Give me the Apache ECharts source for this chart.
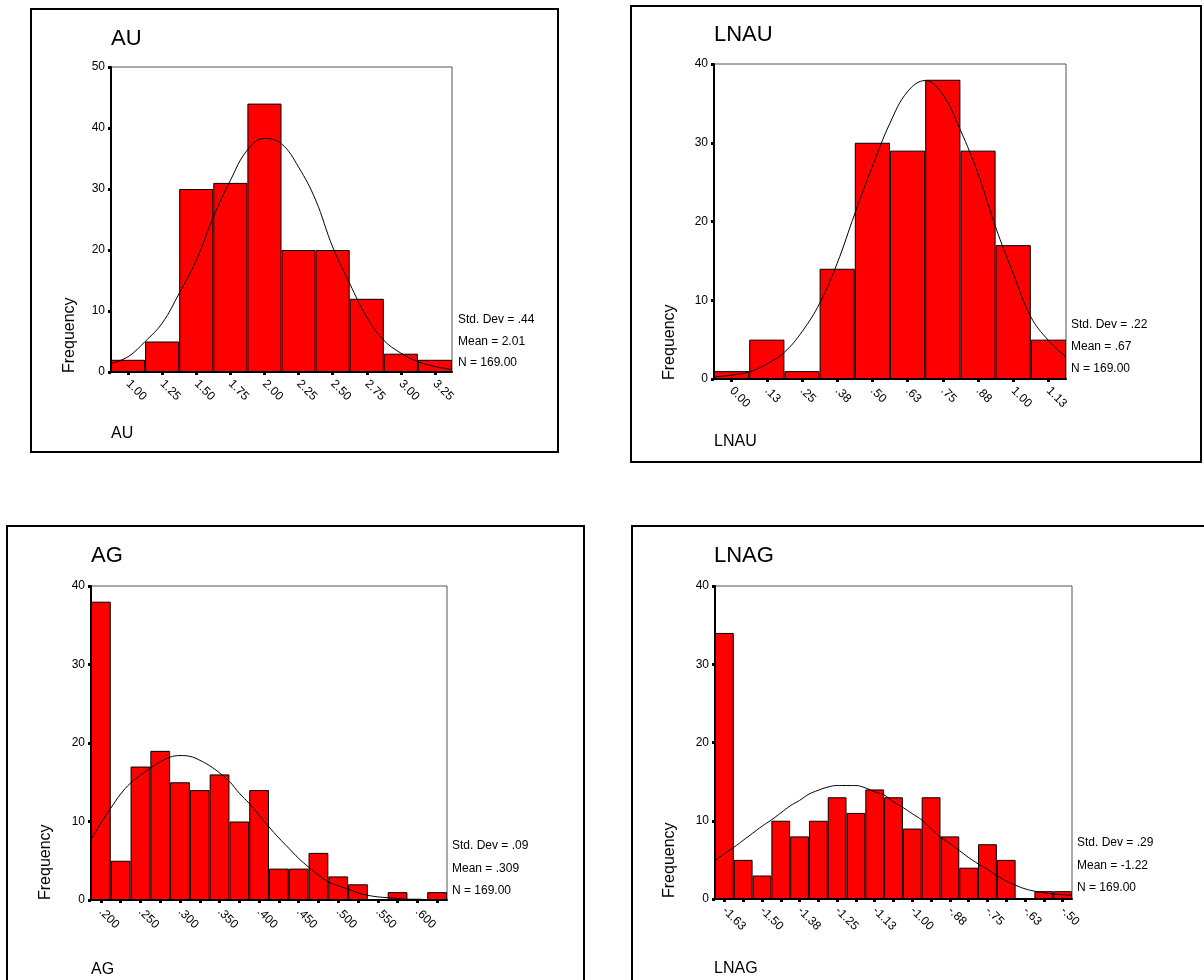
<!DOCTYPE html>
<html>
<head>
<meta charset="utf-8">
<script src="https://cdn.jsdelivr.net/npm/echarts@6/dist/echarts.min.js"></script>
<style>
html,body{margin:0;padding:0;background:#fff;}
#c{width:1204px;height:980px;}
</style>
</head>
<body>
<div id="c"></div>
<script>
// ---------- DATA ----------
// AU
const auCats = ['1.00','1.25','1.50','1.75','2.00','2.25','2.50','2.75','3.00','3.25'];
const auFreq = [2,5,30,31,44,20,20,12,3,2];
const auCurveX = [0.875,1.0,1.125,1.25,1.375,1.5,1.625,1.75,1.875,2.0,2.125,2.25,2.375,2.5,2.625,2.75,2.875,3.0,3.125,3.25,3.375];
const auCurveY = [1.4,2.5,5.0,8.0,12.9,18.3,25.4,31.4,36.4,38.3,37.4,33.6,28.2,20.5,14.5,9.0,5.2,3.1,1.7,0.9,0.4];
const auStats = ['Std. Dev = .44','Mean = 2.01','N = 169.00'];

// LNAU
const lnauCats = ['0.00','.13','.25','.38','.50','.63','.75','.88','1.00','1.13'];
const lnauFreq = [1,5,1,14,30,29,38,29,17,5];
const lnauCurveX = [-0.0625,0.0,0.0625,0.125,0.1875,0.25,0.3125,0.375,0.4375,0.5,0.5625,0.625,0.6875,0.75,0.8125,0.875,0.9375,1.0,1.0625,1.125,1.1875];
const lnauCurveY = [0.25,0.5,0.9,1.9,3.4,6.0,9.6,14.7,21.0,27.0,32.5,36.5,37.9,36.1,31.6,26.1,19.3,13.4,7.9,4.9,2.8];
const lnauStats = ['Std. Dev = .22','Mean = .67','N = 169.00'];

// AG
const agCats = ['.200','.225','.250','.275','.300','.325','.350','.375','.400','.425','.450','.475','.500','.525','.550','.575','.600','.625'];
const agFreq = [38,5,17,19,15,14,16,10,14,4,4,6,3,2,0,1,0,1];
const agCurveX = [0.1875,0.2,0.2125,0.225,0.2375,0.25,0.2625,0.275,0.2875,0.3,0.3125,0.325,0.3375,0.35,0.3625,0.375,0.3875,0.4,0.4125,0.425,0.4375,0.45,0.4625,0.475,0.4875,0.5,0.5125,0.525,0.5375,0.55,0.5625,0.575,0.5875,0.6,0.6125,0.625,0.6375];
const agCurveY = [7.7,9.8,11.7,13.5,14.9,15.9,16.8,17.6,18.2,18.4,18.3,17.8,17.1,16.2,15.1,13.6,12.3,10.8,9.3,7.9,6.6,5.3,4.2,3.2,2.3,1.8,1.4,0.9,0.6,0.4,0.3,0.2,0.1,0.1,0.05,0.03,0.02];
const agStats = ['Std. Dev = .09','Mean = .309','N = 169.00'];

// LNAG
const lnagCats = ['-1.63','-1.56','-1.50','-1.44','-1.38','-1.31','-1.25','-1.19','-1.13','-1.06','-1.00','-.94','-.88','-.81','-.75','-.69','-.63','-.56','-.50'];
const lnagFreq = [34,5,3,10,8,10,13,11,14,13,9,13,8,4,7,5,0,1,1];
const lnagCurveX = [-1.65625,-1.625,-1.59375,-1.5625,-1.53125,-1.5,-1.46875,-1.4375,-1.40625,-1.375,-1.34375,-1.3125,-1.28125,-1.25,-1.21875,-1.1875,-1.15625,-1.125,-1.09375,-1.0625,-1.03125,-1.0,-0.96875,-0.9375,-0.90625,-0.875,-0.84375,-0.8125,-0.78125,-0.75,-0.71875,-0.6875,-0.65625,-0.625,-0.59375,-0.5625,-0.53125,-0.5,-0.46875];
const lnagCurveY = [4.9,5.8,6.6,7.5,8.4,9.3,10.1,11.0,11.9,12.6,13.4,13.9,14.3,14.5,14.5,14.5,14.2,13.7,13.3,12.4,11.7,10.9,10.1,9.0,7.9,7.1,6.2,5.3,4.5,3.8,3.0,2.3,1.75,1.3,1.0,0.8,0.65,0.55,0.5];
const lnagStats = ['Std. Dev = .29','Mean = -1.22','N = 169.00'];

// ---------- LAYOUT ----------
const FONT = '"Liberation Sans", Arial, Helvetica, sans-serif';
const panels = [
  {name:'AU', cats:auCats, freq:auFreq, cx:auCurveX, cy:auCurveY, stats:auStats, ymax:50, labelInterval:0,
   grid:{left:111, top:67, width:341, height:305},
   border:{x:31, y:9, w:527, h:443},
   title:{x:111, y:39}, axisName:{x:111, y:434}, freqLbl:{x:70, y:373}, statsPos:{x:458, y:320, dy:21.5}},
  {name:'LNAU', cats:lnauCats, freq:lnauFreq, cx:lnauCurveX, cy:lnauCurveY, stats:lnauStats, ymax:40, labelInterval:0,
   grid:{left:714, top:64, width:352, height:315},
   border:{x:631, y:6, w:570, h:456},
   title:{x:714, y:35}, axisName:{x:714, y:442}, freqLbl:{x:670, y:380}, statsPos:{x:1071, y:325, dy:22}},
  {name:'AG', cats:agCats, freq:agFreq, cx:agCurveX, cy:agCurveY, stats:agStats, ymax:40, labelInterval:1,
   grid:{left:91, top:586, width:356, height:314},
   border:{x:7, y:526, w:577, h:470},
   title:{x:91, y:556}, axisName:{x:91, y:970}, freqLbl:{x:46, y:900}, statsPos:{x:452, y:846, dy:22.5}},
  {name:'LNAG', cats:lnagCats, freq:lnagFreq, cx:lnagCurveX, cy:lnagCurveY, stats:lnagStats, ymax:40, labelInterval:1,
   grid:{left:715, top:586, width:357, height:313},
   border:{x:632, y:526, w:580, h:470},
   title:{x:714, y:556}, axisName:{x:714, y:969}, freqLbl:{x:670, y:898}, statsPos:{x:1077, y:843, dy:22.5}}
];

const grids = [], xAxes = [], yAxes = [], series = [], graphics = [];
panels.forEach((p, i) => {
  grids.push(Object.assign({show:true, borderColor:'#555', borderWidth:1, backgroundColor:'#fff', containLabel:false}, p.grid));
  // category axis for bars
  xAxes.push({
    type:'category', gridIndex:i, data:p.cats, boundaryGap:true,
    axisLine:{show:true, onZero:false, lineStyle:{color:'#000', width:2}},
    axisTick:{show:true, alignWithLabel:true, interval:0, length:3, lineStyle:{color:'#000', width:3}},
    axisLabel:{show:true, interval:p.labelInterval, rotate:-45, margin:10, color:'#000', fontSize:12, fontFamily:FONT},
    splitLine:{show:false}
  });
  // hidden value axis for the fitted curve
  xAxes.push({
    type:'value', gridIndex:i, show:false, min:p.cx[0], max:p.cx[p.cx.length-1],
    axisLine:{onZero:false}, splitLine:{show:false}
  });
  yAxes.push({
    type:'value', gridIndex:i, min:0, max:p.ymax, interval:10,
    axisLine:{show:true, onZero:false, lineStyle:{color:'#000', width:2}},
    axisTick:{show:true, length:3, lineStyle:{color:'#000', width:3}},
    axisLabel:{color:'#000', fontSize:12, fontFamily:FONT, margin:6},
    splitLine:{show:false}
  });
  series.push({
    type:'bar', xAxisIndex:2*i, yAxisIndex:i, data:p.freq, barCategoryGap:'0%', barGap:'0%',
    itemStyle:{color:'#ff0000', borderColor:'#000', borderWidth:1},
    silent:true, animation:false, z:2
  });
  series.push({
    type:'line', xAxisIndex:2*i+1, yAxisIndex:i, data:p.cx.map((x,k)=>[x,p.cy[k]]),
    smooth:0.4, showSymbol:false, symbol:'none',
    lineStyle:{color:'#000', width:1}, silent:true, animation:false, z:5
  });
  // panel frame
  graphics.push({type:'rect', shape:{x:p.border.x, y:p.border.y, width:p.border.w, height:p.border.h},
    style:{fill:'none', stroke:'#000', lineWidth:2}, silent:true, z:0});
  // title
  graphics.push({type:'text', x:p.title.x, y:p.title.y,
    style:{text:p.name, font:'22px '+FONT, fill:'#000', align:'left', verticalAlign:'middle', textAlign:'left', textVerticalAlign:'middle'}, z:10});
  // bottom axis name
  graphics.push({type:'text', x:p.axisName.x, y:p.axisName.y,
    style:{text:p.name, font:'16px '+FONT, fill:'#000', align:'left', verticalAlign:'middle', textAlign:'left', textVerticalAlign:'middle'}, z:10});
  // Frequency
  graphics.push({type:'text', x:p.freqLbl.x, y:p.freqLbl.y, rotation:Math.PI/2,
    style:{text:'Frequency', font:'16px '+FONT, fill:'#000', align:'left', verticalAlign:'middle', textAlign:'left', textVerticalAlign:'middle'}, z:10});
  // stats
  p.stats.forEach((s, k) => {
    graphics.push({type:'text', x:p.statsPos.x, y:p.statsPos.y + k*p.statsPos.dy,
      style:{text:s, font:'12px '+FONT, fill:'#000', align:'left', verticalAlign:'middle', textAlign:'left', textVerticalAlign:'middle'}, z:10});
  });
});

const chart = echarts.init(document.getElementById('c'), null, {renderer:'canvas'});
chart.setOption({
  animation:false,
  backgroundColor:'#fff',
  grid:grids, xAxis:xAxes, yAxis:yAxes, series:series,
  graphic:{elements:graphics}
});
</script>
</body>
</html>
